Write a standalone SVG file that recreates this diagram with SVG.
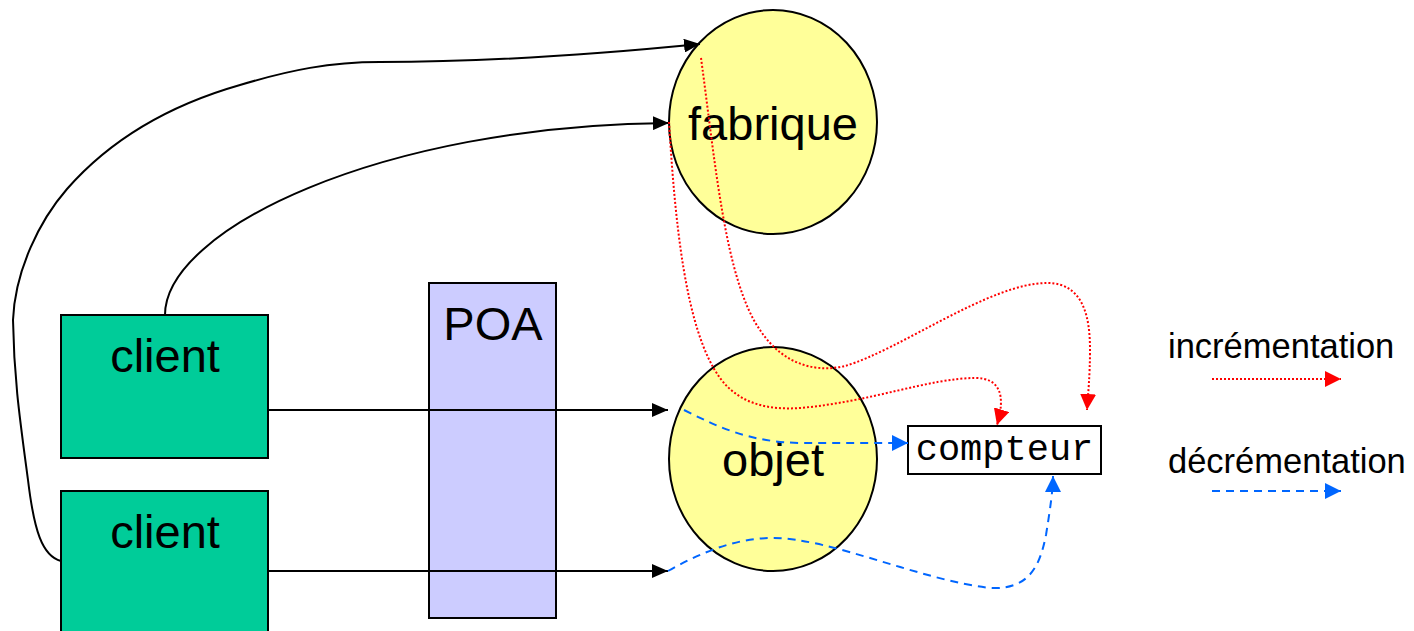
<svg xmlns="http://www.w3.org/2000/svg" width="1414" height="631" viewBox="0 0 1414 631">
  <style>
    .label { font-family: "Liberation Sans", Arial, sans-serif; font-size: 47px; fill: #000; text-anchor: middle; }
    .legend { font-family: "Liberation Sans", Arial, sans-serif; font-size: 34.5px; fill: #000; }
    .mono { font-family: "Liberation Mono", "Courier New", monospace; font-size: 37px; fill: #000; text-anchor: middle; }
    .client { fill: #00CC99; stroke: #000; stroke-width: 2; }
    .poa { fill: #CCCCFF; stroke: #000; stroke-width: 2; }
    .obj { fill: #FFFF99; stroke: #000; stroke-width: 2; }
    .box { fill: #fff; stroke: #000; stroke-width: 2; }
    .call { fill: none; stroke: #000; stroke-width: 2; }
    .inc { fill: none; stroke: #FF0000; stroke-width: 2; stroke-dasharray: 2 2; }
    .dec { fill: none; stroke: #0066FF; stroke-width: 2; stroke-dasharray: 8 6; }
  </style>
  <defs>
    <marker id="ahBlack" markerUnits="userSpaceOnUse" markerWidth="16" markerHeight="14" viewBox="0 0 16 14" refX="16" refY="7" orient="auto">
      <path d="M0,0 L16,7 L0,14 z" fill="#000"/>
    </marker>
    <marker id="ahRed" markerUnits="userSpaceOnUse" markerWidth="16" markerHeight="16" viewBox="0 0 16 16" refX="16" refY="8" orient="auto">
      <path d="M0,0 L16,8 L0,16 z" fill="#FF0000"/>
    </marker>
    <marker id="ahBlue" markerUnits="userSpaceOnUse" markerWidth="16" markerHeight="16" viewBox="0 0 16 16" refX="16" refY="8" orient="auto">
      <path d="M0,0 L16,8 L0,16 z" fill="#0066FF"/>
    </marker>
  </defs>

  <!-- clients -->
  <g id="client1">
    <rect class="client" x="61" y="315" width="207" height="143"/>
    <text class="label" x="165" y="372">client</text>
  </g>
  <g id="client2">
    <rect class="client" x="61" y="491" width="207" height="150"/>
    <text class="label" x="165" y="548">client</text>
  </g>

  <!-- object adapter -->
  <g id="poa">
    <rect class="poa" x="429" y="283" width="127" height="335"/>
    <text class="label" x="493" y="340">POA</text>
  </g>

  <!-- servants -->
  <g id="fabrique">
    <ellipse class="obj" cx="773" cy="122" rx="104" ry="112"/>
    <text class="label" x="773" y="140">fabrique</text>
  </g>
  <g id="objet">
    <ellipse class="obj" cx="773" cy="459" rx="104" ry="112"/>
    <text class="label" x="773" y="476">objet</text>
  </g>

  <!-- reference counter -->
  <g id="compteur">
    <rect class="box" x="908" y="426" width="193" height="48"/>
    <text class="mono" x="1004.5" y="460">compteur</text>
  </g>

  <!-- legend -->
  <g id="legende">
    <text class="legend" x="1168" y="358">incrémentation</text>
    <path class="inc" d="M1212,379 L1341,379" marker-end="url(#ahRed)"/>
    <text class="legend" x="1168" y="473">décrémentation</text>
    <path class="dec" d="M1212,491 L1341,491" marker-end="url(#ahBlue)"/>
  </g>

  <!-- connectors -->
  <g id="connectors">
    <!-- invocations -->
    <path class="call" d="M61,561 C 42,556 34,530 28,480 C 20,420 14,380 13,320 C 15,270 40,220 67,189 C 110,140 170,105 240,85 C 290,70 330,62 380,62 C 500,62 620,52 700,44" marker-end="url(#ahBlack)"/>
    <path class="call" d="M165,315 C 165,230 380,125 669,123" marker-end="url(#ahBlack)"/>
    <path class="call" d="M268,410 L668,410" marker-end="url(#ahBlack)"/>
    <path class="call" d="M268,571 L668,571" marker-end="url(#ahBlack)"/>

    <!-- increments -->
    <path class="inc" d="M701,58 C 715,160 725,280 760,330 C 785,368 820,372 845,366 C 900,350 990,283 1047,283 C 1085,283 1090,320 1090,350 C 1090,375 1088,395 1087,410" marker-end="url(#ahRed)"/>
    <path class="inc" d="M669,122 C 675,220 685,330 720,378 C 740,405 770,410 800,408 C 870,402 930,378 975,378 C 1000,378 1006,395 997,425" marker-end="url(#ahRed)"/>

    <!-- decrements -->
    <path class="dec" d="M684,410 C 720,428 750,442 800,443 L 908,443" marker-end="url(#ahBlue)"/>
    <path class="dec" d="M668,571 C 700,553 735,538 773,538 C 830,538 920,580 990,588 C 1030,590 1040,565 1046,535 C 1050,510 1053,490 1053,476" marker-end="url(#ahBlue)"/>
  </g>
</svg>
